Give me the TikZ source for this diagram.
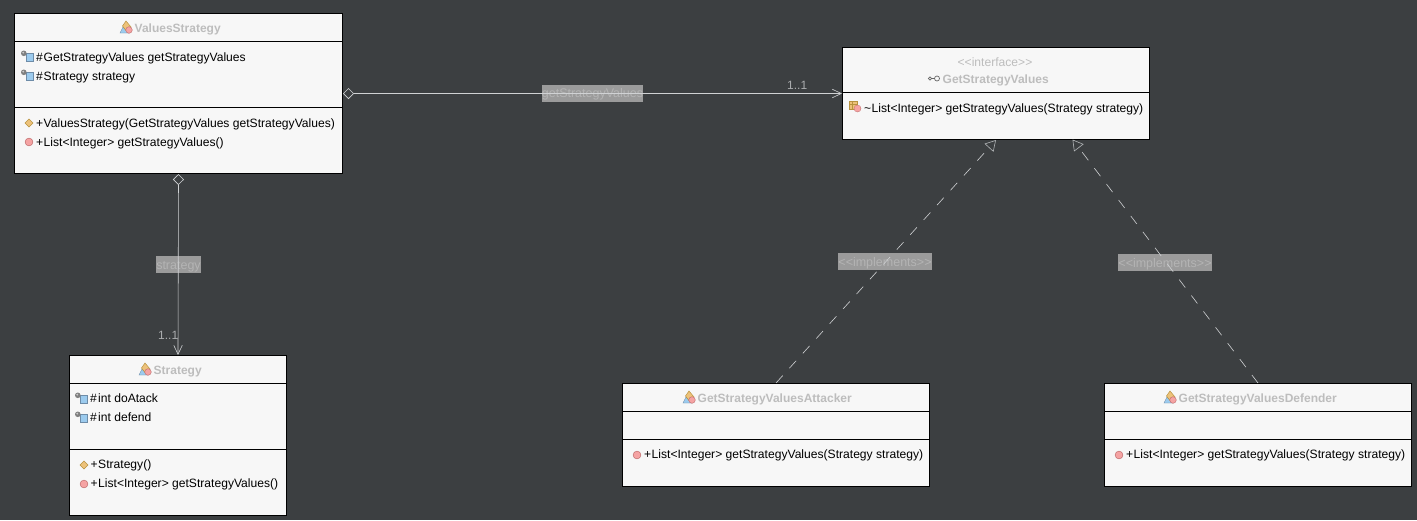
\documentclass[tikz,border=0pt]{standalone}
\usepackage{fontspec}
\setmainfont{Liberation Sans}
\usetikzlibrary{arrows.meta}
\definecolor{bgc}{HTML}{3C3F41}
\definecolor{boxc}{HTML}{F7F7F7}
\definecolor{titlec}{HTML}{BDBDBD}
\definecolor{linkc}{HTML}{D0D2D4}
\definecolor{lblbg}{HTML}{9B9B9B}
\definecolor{lbltx}{HTML}{B4B4B4}
\definecolor{icorange}{HTML}{EDC27A}
\definecolor{icorangeb}{HTML}{B8923F}
\definecolor{icblue}{HTML}{9CCBEE}
\definecolor{icblueb}{HTML}{6E8CA8}
\definecolor{icred}{HTML}{F5A3A3}
\definecolor{icredb}{HTML}{BE6A6A}
\tikzset{
 clsbox/.style={draw=black,fill=boxc,line width=1pt,inner sep=0pt,minimum width=#1},
 sep/.style={draw=black,line width=1pt},
 title/.style={font=\fontsize{12}{12}\selectfont\bfseries,text=titlec,inner sep=0pt,anchor=base west},
 member/.style={font=\fontsize{12.1}{12}\selectfont,text=black,inner sep=0pt,anchor=base west},
 stereo/.style={font=\fontsize{12.1}{12}\selectfont,text=titlec,inner sep=0pt,anchor=base},
 mult/.style={font=\fontsize{12}{12}\selectfont,text=linkc!75!bgc,inner sep=0pt,anchor=base west},
 lbl/.style={fill=lblbg,text=lbltx,font=\fontsize{12.5}{12}\selectfont,inner sep=0pt,minimum height=17pt,text height=10.5pt,text depth=1.5pt},
 assoc/.style={draw=linkc,line width=.6pt,-{Straight Barb[length=9pt,width=8.5pt,line width=.6pt]}},
 aggr/.style={assoc,{Diamond[open,fill=bgc,length=11pt,width=11pt,line width=.6pt]}-{Straight Barb[length=9pt,width=8.5pt,line width=.6pt]}},
 real/.style={draw=linkc,line width=.6pt,dash pattern=on 10pt off 10pt,-{Triangle[open,fill=bgc,length=10.5pt,width=12pt,line width=.6pt,color=linkc!80!bgc]}},
}
\newcommand{\classicon}[2]{%
 \begin{scope}[shift={(#1,#2)}]
 \fill[icblue,draw=icblueb,line width=.4pt] (-6,6) -- (-3,0) -- (3,6) -- cycle;
 \draw[icorangeb,line width=.5pt,fill=icorange] (-3.5,-1) -- (0,-6) -- (5,0) -- (0,3.5) -- cycle;
 \fill[icred,draw=icredb,line width=.4pt] (3,3) circle (3.3);
 \end{scope}}
\newcommand{\fieldicon}[2]{%
 \begin{scope}[shift={(#1,#2)}]
 \draw[icblueb,line width=.6pt,fill=icblue] (-1.5,-3.2) rectangle (5.7,5.2);
 \fill[black!50] (-3.7,-3.2) circle (2.8);
 \fill[black!20] (-4.3,-3.9) circle (1);
 \end{scope}}
\newcommand{\methicon}[2]{\fill[icred,draw=icredb,line width=.5pt] (#1,#2) circle (3.9);}
\newcommand{\ctoricon}[2]{\fill[icorange,draw=icorangeb,line width=.5pt] (#1-4,#2) -- (#1,#2-4) -- (#1+4,#2) -- (#1,#2+4) -- cycle;}
\begin{document}
\begin{tikzpicture}[x=1pt,y=-1pt]
\useasboundingbox (0,0) rectangle (1417,520);
\fill[bgc] (0,0) rectangle (1417,520);
% boxes
\node[clsbox=328pt,minimum height=160pt] (vs) at (178.5,93.5) {};
\node[clsbox=307pt,minimum height=92pt] (gsv) at (996,93.5) {};
\node[clsbox=217pt,minimum height=160pt] (st) at (178,435.5) {};
\node[clsbox=307pt,minimum height=103pt] (att) at (776,435) {};
\node[clsbox=307pt,minimum height=103pt] (def) at (1258,435) {};
% separators
\draw[sep] (14.5,41) -- (342.5,41) (14.5,107) -- (342.5,107);
\draw[sep] (842.5,92.5) -- (1149.5,92.5);
\draw[sep] (69.5,383) -- (286.5,383) (69.5,449) -- (286.5,449);
\draw[sep] (622.5,411) -- (929.5,411) (622.5,439) -- (929.5,439);
\draw[sep] (1104.5,411) -- (1411.5,411) (1104.5,439) -- (1411.5,439);
% ValuesStrategy
\classicon{126}{27}
\node[title] (vst) at (134.5,32) {ValuesStrategy};
\fieldicon{27.5}{56.5}
\node[member] (vs1h) at (36,61) {\#};
\node[member] (vs1) at (43.5,61) {GetStrategyValues getStrategyValues};
\fieldicon{27.5}{75.5}
\node[member] (vs2h) at (36,80) {\#};
\node[member] (vs2) at (43.5,80) {Strategy strategy};
\ctoricon{29}{123}
\node[member] (vs3h) at (36,127) {+};
\node[member] (vs3) at (43.5,127) {ValuesStrategy(GetStrategyValues getStrategyValues)};
\methicon{29}{142}
\node[member] (vs4h) at (36,146) {+};
\node[member] (vs4) at (43.5,146) {List<Integer> getStrategyValues()};
% interface
\node[stereo] (gsvs) at (995,66) {<{}<interface>{}>};
\draw[black!60,line width=.7pt] (930,78.5) circle (1.7) (931.7,78.5) -- (934.5,78.5);
\draw[black!60,line width=.7pt] (937,78.5) circle (2.5);
\node[title] (gsvt) at (942.5,83) {GetStrategyValues};
\begin{scope}[shift={(855,107)}]
 \fill[icorange,draw=icorangeb,line width=.5pt] (-6,-6) rectangle (2,2);
 \draw[icorangeb,line width=.4pt] (-3.3,-6) -- (-3.3,2) (-6,-3.3) -- (2,-3.3);
 \fill[icred,draw=icredb,line width=.3pt] (2.5,1.5) circle (3.5);
\end{scope}
\node[member] (gsvh) at (864,112) {\textasciitilde};
\node[member] (gsv1) at (871.5,112) {List<Integer> getStrategyValues(Strategy strategy)};
% Strategy
\classicon{145}{369}
\node[title] (stt) at (153.5,374) {Strategy};
\fieldicon{81.5}{398.5}
\node[member] (st1h) at (90,402.5) {\#};
\node[member] (st1) at (98,402.5) {int doAtack};
\fieldicon{81.5}{417.5}
\node[member] (st2h) at (90,421.5) {\#};
\node[member] (st2) at (98,421.5) {int defend};
\ctoricon{84}{465}
\node[member] (st3h) at (90.5,468.5) {+};
\node[member] (st3) at (98,468.5) {Strategy()};
\methicon{84}{484}
\node[member] (st4h) at (90.5,487.5) {+};
\node[member] (st4) at (98,487.5) {List<Integer> getStrategyValues()};
% Attacker
\classicon{689}{397}
\node[title] (attt) at (697.5,402) {GetStrategyValuesAttacker};
\methicon{637}{455}
\node[member] (att1h) at (644,458.5) {+};
\node[member] (att1) at (651.5,458.5) {List<Integer> getStrategyValues(Strategy strategy)};
% Defender
\classicon{1170}{397}
\node[title] (deft) at (1178.5,402) {GetStrategyValuesDefender};
\methicon{1119}{455}
\node[member] (def1h) at (1126,458.5) {+};
\node[member] (def1) at (1133.5,458.5) {List<Integer> getStrategyValues(Strategy strategy)};
% labels
\node[lbl,minimum width=99pt] (l1) at (592.5,93.4) {getStrategyValues};
\node[lbl,minimum width=43pt] (l2) at (178.5,264.5) {strategy};
\node[lbl,minimum width=94pt] (l3) at (885,261.5) {<{}<implements>{}>};
\node[lbl,minimum width=94pt] (l4) at (1165,262.5) {<{}<implements>{}>};
\node[mult] (m1) at (787,89) {1..1};
\node[mult] (m2) at (158,339) {1..1};
% connectors
\coordinate (gsvr) at (1072.5,139.5);
\draw[aggr] (vs.east) -- (gsv.west);
\draw[aggr] (vs.south) -- (st.north);
\draw[real] (att.north) -- (gsv.south);
\draw[real] (def.north) -- (gsvr);
\end{tikzpicture}
\end{document}
